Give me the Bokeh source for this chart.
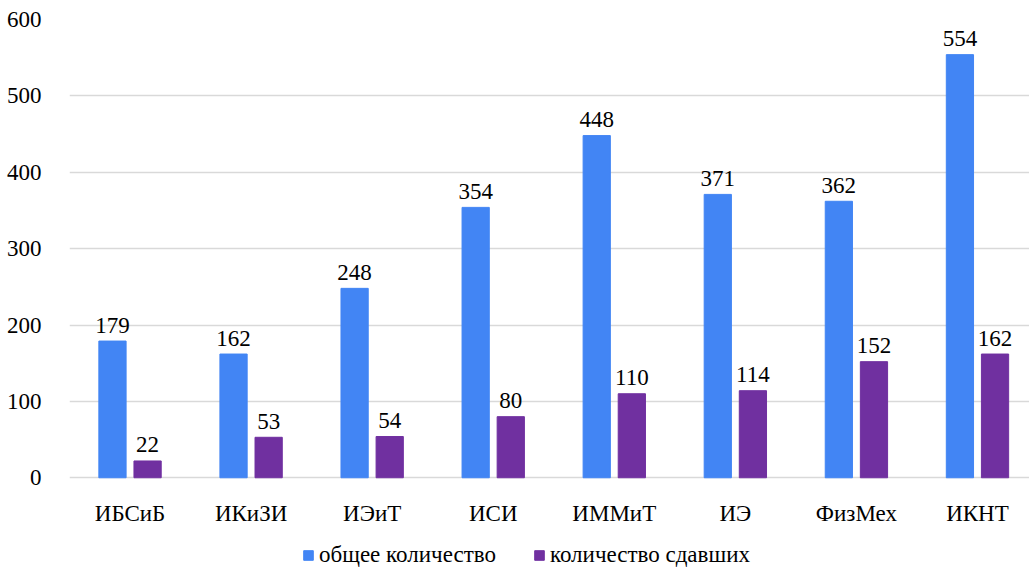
from bokeh.plotting import figure
from bokeh.models import ColumnDataSource, Range1d, FixedTicker, Legend, LegendItem
from bokeh.embed import file_html
from bokeh.resources import INLINE
from bokeh.core.properties import value

categories = ["ИБСиБ", "ИКиЗИ", "ИЭиТ", "ИСИ", "ИММиТ", "ИЭ", "ФизМех", "ИКНТ"]
total = [179, 162, 248, 354, 448, 371, 362, 554]
passed = [22, 53, 54, 80, 110, 114, 152, 162]
series_names = ["общее количество", "количество сдавших"]
y_ticks = [0, 100, 200, 300, 400, 500, 600]

FONT = "Liberation Serif"
FS = "23px"
BLUE = "#4285F4"
PURPLE = "#7030A0"

xc = [i + 0.5 for i in range(len(categories))]
off = 0.145
bw = 0.225

src = ColumnDataSource(dict(
    x1=[x - off for x in xc], x2=[x + off for x in xc],
    total=total, passed=passed,
    tl=[str(v) for v in total], pl=[str(v) for v in passed],
))
cat_src = ColumnDataSource(dict(x=xc, y=[0] * len(xc), label=categories))

p = figure(width=1029, height=568, output_backend="svg", toolbar_location=None,
           x_range=Range1d(0, 959.5 / 121), y_range=Range1d(-118.8, 600),
           x_axis_location=None,
           min_border_left=69, min_border_right=0, min_border_top=19, min_border_bottom=0)
p.outline_line_color = None
p.background_fill_color = "white"
p.border_fill_color = "white"

r1 = p.vbar(x="x1", top="total", width=bw, source=src, color=BLUE)
r2 = p.vbar(x="x2", top="passed", width=bw, source=src, color=PURPLE)

for xcol, ycol, tcol in (("x1", "total", "tl"), ("x2", "passed", "pl")):
    p.text(x=xcol, y=ycol, text=tcol, source=src, text_align="center",
           text_baseline="alphabetic", y_offset=-16,
           text_font=value(FONT), text_font_size=FS, text_color="#000000")

# category labels under the baseline
p.text(x="x", y="y", text="label", source=cat_src, text_align="center",
       text_baseline="alphabetic", y_offset=36,
       text_font=value(FONT), text_font_size=FS, text_color="#000000")

p.xgrid.visible = False
p.ygrid.grid_line_color = "#d9d9d9"
p.ygrid.grid_line_width = 1.3
p.ygrid.ticker = FixedTicker(ticks=y_ticks)

p.yaxis.ticker = FixedTicker(ticks=y_ticks)
p.yaxis.axis_line_color = None
p.yaxis.major_tick_line_color = None
p.yaxis.minor_tick_line_color = None
p.yaxis.major_label_standoff = 22
p.yaxis.major_label_text_font = FONT
p.yaxis.major_label_text_font_size = FS
p.yaxis.major_label_text_color = "#000000"

legend = Legend(items=[LegendItem(label=series_names[0], renderers=[r1]),
                       LegendItem(label=series_names[1], renderers=[r2])],
                orientation="horizontal", location=(233, 0),
                glyph_width=12, glyph_height=12, label_standoff=5, spacing=37,
                label_text_font=FONT, label_text_font_size=FS, label_height=12,
                label_text_color="#000000", border_line_color=None,
                background_fill_alpha=0, padding=0, margin=0)
p.add_layout(legend, "center")

open("out.html", "w").write(file_html(p, INLINE))
